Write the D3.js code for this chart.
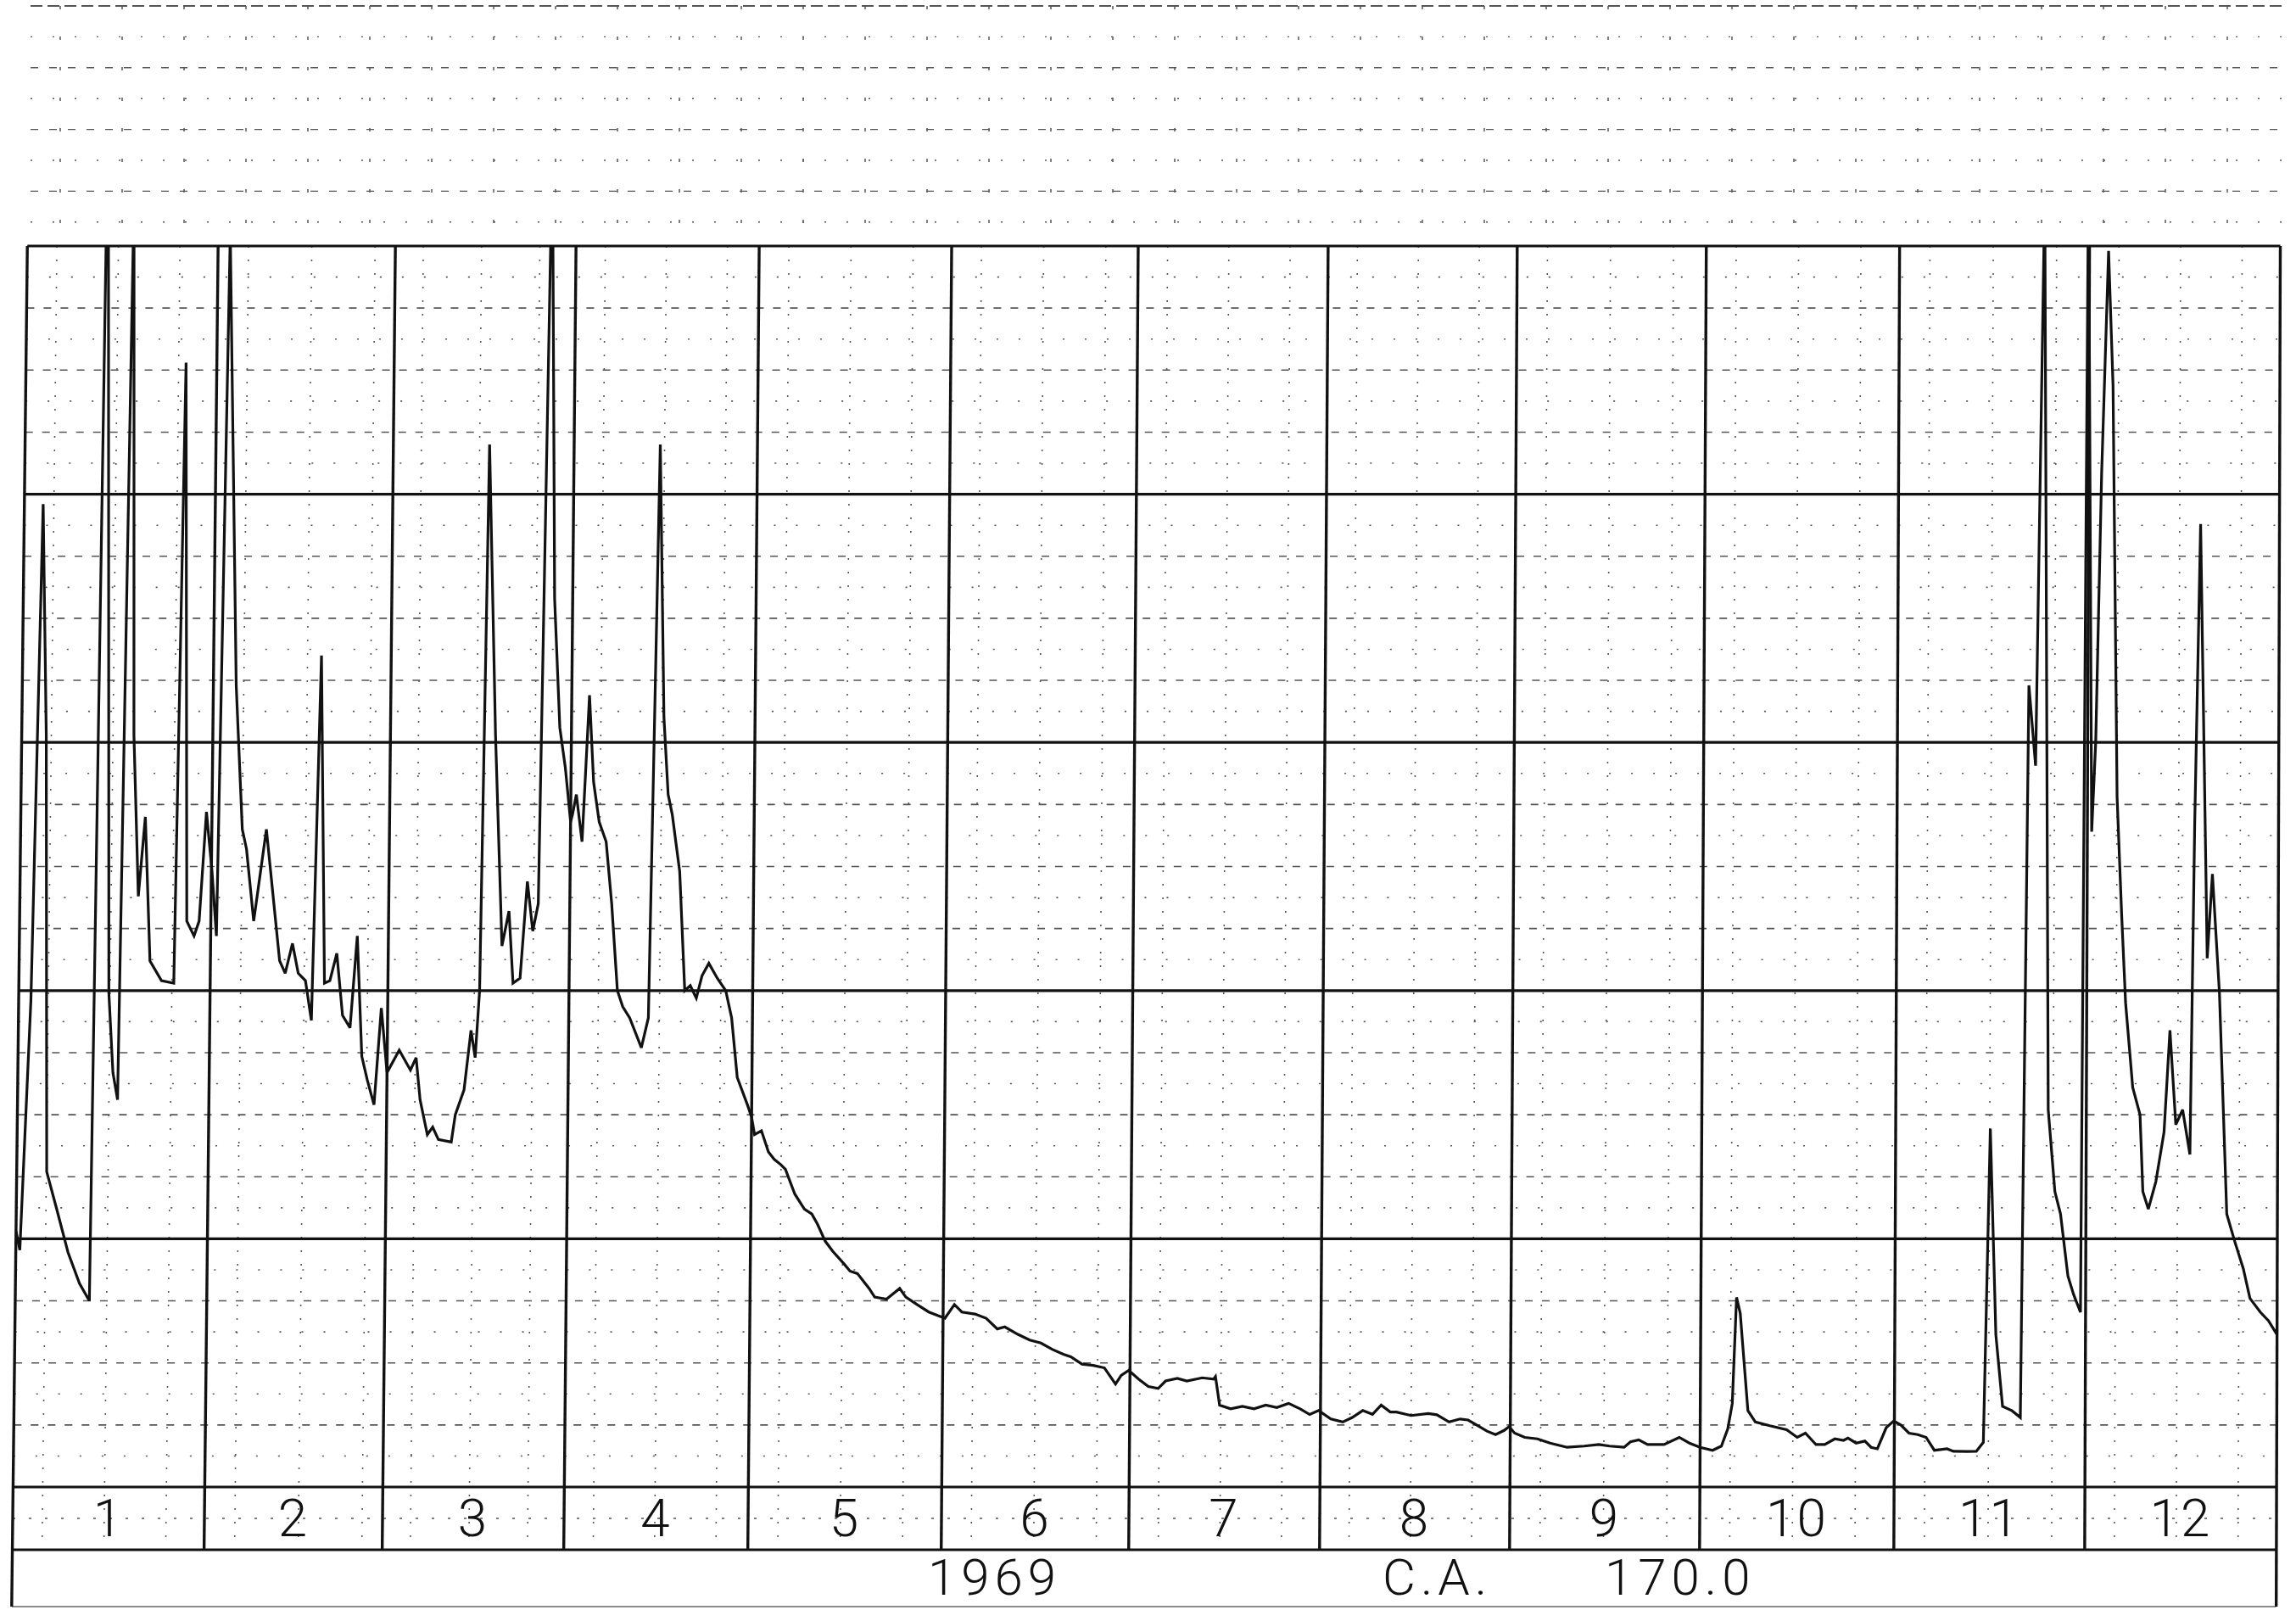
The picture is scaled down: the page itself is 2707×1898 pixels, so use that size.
<!DOCTYPE html>
<html><head><meta charset="utf-8">
<script src="https://cdn.jsdelivr.net/npm/d3@7"></script>
<style>html,body{margin:0;padding:0;background:#fff;}svg{display:block}</style>
</head><body>
<script>
// ---------------- data ----------------
const monthLabels = ["1","2","3","4","5","6","7","8","9","10","11","12"];
const yearLabel = "1969";
const stationLabel = "C.A.";
const stationValue = "170.0";
const majorLevels = [0, 10, 20, 30, 40, 50];
// day of year (0 = 1 Jan 1969, fractional) and discharge (chart units, 50 = top of frame)
const dayOfYear = [
 0.0,0.65,1.98,3.05,3.98,4.86,6.54,8.46,10.37,12.0,12.9,14.6,15.4,16.2,17.25,18.2,19.2,20.2,21.2,23.1,
 25.1,26.0,27.1,28.3,29.1,30.1,31.1,31.9,32.9,34.6,35.8,36.5,37.75,39.6,41.9,42.8,43.9,44.85,46.0,47.0,
 48.0,49.0,49.85,50.9,51.9,53.1,54.1,55.0,55.9,57.0,58.0,59.0,61.05,63.0,63.95,64.7,66.0,66.9,67.9,70.1,
 70.75,72.2,73.3,74.05,74.7,75.5,77.0,78.45,79.6,80.4,81.6,82.7,83.7,84.6,85.8,86.9,88.0,89.0,90.0,90.3,
 90.9,91.9,92.9,93.7,94.67,95.84,96.84,97.9,98.8,99.95,101.9,103.0,104.1,105.1,105.9,106.6,107.9,108.9,109.8,110.8,
 111.7,112.8,114.2,115.6,116.6,117.6,119.3,120.0,120.5,121.6,122.75,123.7,124.7,125.5,127.05,128.6,129.8,130.7,132.0,133.2,
 135.0,136.0,137.2,139.1,140.0,141.9,144.0,145.0,146.8,148.7,150.2,151.3,152.8,154.0,156.1,157.9,159.7,160.9,163.0,164.9,
 166.7,168.5,170.3,171.5,173.3,175.1,176.9,178.7,179.6,180.8,182.4,184.0,185.6,186.8,188.7,190.25,192.75,194.6,194.9,195.6,
 197.4,199.3,201.2,203.1,204.9,206.8,208.7,210.25,211.7,213.7,215.65,217.2,218.9,220.5,221.9,223.4,224.4,226.8,229.6,231.0,
 233.0,234.8,236.1,237.5,239.2,240.6,242.0,242.8,243.7,245.3,247.3,249.3,252.0,254.7,257.0,258.7,261.0,262.0,263.3,264.7,
 267.3,269.7,271.3,273.0,275.0,276.4,277.4,278.1,278.7,279.3,280.6,281.8,284.1,286.8,288.5,289.8,291.5,292.9,294.5,295.9,
 296.6,297.9,299.3,300.3,301.3,302.7,303.9,305.0,306.3,307.7,309.0,310.3,312.3,313.3,315.5,316.9,318.0,318.9,319.9,321.0,
 322.5,323.8,324.7,325.8,326.9,328.0,329.1,330.0,331.2,332.1,333.2,333.8,334.7,335.3,336.1,337.1,337.9,338.8,339.6,340.3,
 341.5,342.7,343.2,344.1,345.3,346.6,347.5,348.5,349.6,350.8,351.4,352.2,353.5,354.3,355.5,356.8,358.1,359.5,360.6,362.3,
 363.6,365.0
];
const discharge = [
 10.3,9.55,19.6,39.6,30.3,12.7,11.2,9.45,8.2,7.5,56,19.9,16.7,15.6,52,30.3,23.8,27.0,21.2,20.4,
 20.3,45.3,22.8,22.2,22.8,27.2,24.8,22.2,50.5,32.3,26.5,25.7,22.8,26.5,21.2,20.7,21.9,20.7,20.4,18.8,
 33.5,20.3,20.4,21.5,19.0,18.5,22.2,17.35,16.4,15.4,19.3,16.7,17.6,16.8,17.3,15.6,14.2,14.5,14.0,13.9,
 15.0,16.0,18.4,17.3,20.0,42.0,30.3,21.8,23.2,20.3,20.5,24.4,22.4,23.5,54,35.8,30.6,29.0,26.8,27.1,
 27.9,26.0,31.9,28.4,26.8,26.0,23.5,20.0,19.35,18.9,17.7,18.9,42.0,31.0,27.9,27.1,24.8,20.0,20.2,19.7,
 20.6,21.1,20.5,20.0,18.9,16.5,15.4,14.9,14.2,14.35,13.5,13.2,13.0,12.8,11.8,11.2,11.0,10.6,9.9,9.5,
 9.0,8.7,8.6,8.0,7.65,7.57,8.0,7.65,7.35,7.05,6.9,6.8,7.35,7.05,6.97,6.8,6.37,6.45,6.15,5.92,
 5.8,5.55,5.35,5.25,4.95,4.9,4.8,4.15,4.5,4.7,4.35,4.05,3.97,4.27,4.38,4.27,4.4,4.35,4.45,3.3,
 3.15,3.25,3.15,3.3,3.2,3.37,3.15,2.92,3.08,2.74,2.62,2.8,3.08,2.93,3.3,3.02,3.02,2.88,2.96,2.91,
 2.62,2.74,2.7,2.5,2.25,2.11,2.28,2.43,2.17,2.0,1.94,1.77,1.6,1.65,1.71,1.65,1.6,1.82,1.9,1.71,
 1.71,2.0,1.77,1.6,1.48,1.65,2.34,3.36,7.64,7.0,3.08,2.62,2.47,2.31,2.0,2.17,1.71,1.71,1.94,1.88,
 1.97,1.77,1.85,1.6,1.54,2.39,2.66,2.5,2.17,2.11,2.0,1.48,1.54,1.44,1.43,1.44,1.8,14.44,6.14,3.25,
 3.07,2.8,32.3,29.06,52.2,15.2,11.9,11.0,8.5,7.76,7.04,53,26.4,30.0,40.8,49.8,44.4,27.8,23.1,19.5,
 16.1,15.0,11.9,11.2,12.3,14.3,18.4,14.6,15.2,13.4,26.7,38.8,21.3,24.7,19.9,11.0,9.9,8.8,7.6,7.04,
 6.7,6.14
];

// ---------------- layout ----------------
const W = 2707, H = 1898;
const monthEdges = [15,241,451,665,882,1110,1331,1556,1780,2004,2233,2458,2684];
const plotTop = 290, plotBottom = 1753, monthRowBottom = 1827, frameBottom = 1894;
// the scanned sheet leans slightly: more on the left than on the right
const shearLeft = 0.0115, shearRight = 0.003, shearRef = 1790;
const ink = "#111";
const gridInk = "#555";

const monthStarts = d3.range(13).map(m => new Date(Date.UTC(1969, m, 1)));
const x = d3.scaleUtc().domain(monthStarts).range(monthEdges);
const y = d3.scaleLinear().domain([0, 50]).range([plotBottom, plotTop]);
const toDate = d => new Date(Date.UTC(1969, 0, 1) + d * 864e5);
const shearK = d3.scaleLinear().domain([monthEdges[0], monthEdges[12]]).range([shearLeft, shearRight]);
const sx = (px, py) => px + shearK(px) * (shearRef - py);

const svg = d3.select("body").append("svg")
  .attr("width", W).attr("height", H).attr("viewBox", `0 0 ${W} ${H}`);
svg.append("rect").attr("width", W).attr("height", H).attr("fill", "#fff");

// ---------- faint header strip grid (upper part of paper) ----------
const strip = svg.append("g").attr("stroke", gridInk).attr("fill", "none");
const stripRows = d3.range(8).map(i => 7 + 36.4 * i);
strip.selectAll("line.sr").data(stripRows).join("line")
  .attr("x1", 36).attr("x2", 2690).attr("y1", d => d).attr("y2", d => d)
  .attr("stroke-width", (d, i) => i === 0 ? 1.8 : 1.4)
  .attr("stroke-dasharray", (d, i) => i === 0 ? "14 6" : (i % 2 ? "2 24" : "9 13"));
const stripCols = d3.range(71, 2690, 73);
strip.selectAll("line.sc").data(stripCols).join("line")
  .attr("x1", d => d).attr("x2", d => d).attr("y1", 7).attr("y2", 275)
  .attr("stroke-width", 1.5).attr("stroke-dasharray", "4 32");

const g = svg.append("g");
const hLine = (sel, yy) => sel
  .attr("x1", d => sx(monthEdges[0], yy(d))).attr("x2", d => sx(monthEdges[12], yy(d)))
  .attr("y1", d => yy(d)).attr("y2", d => yy(d));

// minor horizontal grid (eighths)
const minorLevels = d3.range(0, 50, 1.25).filter(v => v % 10 !== 0);
g.append("g").selectAll("line").data(minorLevels).join("line")
  .call(hLine, d => y(d))
  .attr("stroke", gridInk).attr("stroke-width", 1.6)
  .attr("stroke-dasharray", d => (Math.round(d / 1.25) % 2 === 0) ? "9 11" : "2 24");

// minor vertical grid (days 5, 15, 25 of each month)
const minorDays = [];
monthStarts.slice(0, 12).forEach(s => [4.8, 14.8, 24.8].forEach(o => minorDays.push(new Date(+s + o * 864e5))));
g.append("g").selectAll("line").data(minorDays).join("line")
  .attr("x1", d => sx(x(d), plotTop)).attr("x2", d => sx(x(d), monthRowBottom))
  .attr("y1", plotTop).attr("y2", monthRowBottom)
  .attr("stroke", gridInk).attr("stroke-width", 1.6).attr("stroke-dasharray", "2 14");

// dotted line through month row
g.append("g").selectAll("line").data([(plotBottom + monthRowBottom) / 2]).join("line")
  .call(hLine, d => d)
  .attr("stroke", gridInk).attr("stroke-width", 1.6).attr("stroke-dasharray", "3 16");

// major horizontal lines
g.append("g").selectAll("line").data(majorLevels).join("line")
  .call(hLine, d => y(d))
  .attr("stroke", ink).attr("stroke-width", 3.2);
g.append("g").selectAll("line").data([monthRowBottom]).join("line")
  .call(hLine, d => d)
  .attr("stroke", ink).attr("stroke-width", 3.2);
g.append("g").selectAll("line").data([frameBottom]).join("line")
  .call(hLine, d => d)
  .attr("stroke", "#666").attr("stroke-width", 1.4);

// month boundaries
g.append("g").selectAll("line").data(monthStarts).join("line")
  .attr("x1", d => sx(x(d), plotTop))
  .attr("x2", (d, i) => sx(x(d), (i === 0 || i === 12) ? frameBottom : monthRowBottom))
  .attr("y1", plotTop).attr("y2", (d, i) => (i === 0 || i === 12) ? frameBottom : monthRowBottom)
  .attr("stroke", ink).attr("stroke-width", 3.4);

// hydrograph
const clipCorners = [[monthEdges[0], plotTop], [monthEdges[12], plotTop], [monthEdges[12], plotBottom], [monthEdges[0], plotBottom]]
  .map(([a, b]) => [sx(a, b), b]);
g.append("clipPath").attr("id", "plotclip").append("polygon")
  .attr("points", clipCorners.map(p => p.join(",")).join(" "));
const series = dayOfYear.map((d, i) => [toDate(d), discharge[i]]);
const line = d3.line().x(d => sx(x(d[0]), y(d[1]))).y(d => y(d[1]));
g.append("path").datum(series)
  .attr("clip-path", "url(#plotclip)")
  .attr("d", line).attr("fill", "none")
  .attr("stroke", ink).attr("stroke-width", 3.2).attr("stroke-linejoin", "miter").attr("stroke-miterlimit", 3);

// month labels
g.append("g").selectAll("text").data(monthLabels).join("text")
  .attr("x", (d, i) => sx((x(monthStarts[i]) + x(monthStarts[i + 1])) / 2, 1790))
  .attr("y", 1811)
  .attr("text-anchor", "middle")
  .attr("font-family", "Roboto, 'DejaVu Sans', sans-serif")
  .attr("font-weight", 300).attr("font-size", 62).attr("fill", ink)
  .attr("letter-spacing", 2)
  .text(d => d);

// bottom row texts
const bottomText = (t, xx) => g.append("text").attr("x", xx).attr("y", 1880)
  .attr("font-family", "Roboto, 'DejaVu Sans', sans-serif")
  .attr("font-weight", 300).attr("font-size", 60).attr("fill", ink)
  .attr("letter-spacing", 6).text(t);
bottomText(yearLabel, 1094);
bottomText(stationLabel, 1630);
bottomText(stationValue, 1892);
</script>
</body></html>
